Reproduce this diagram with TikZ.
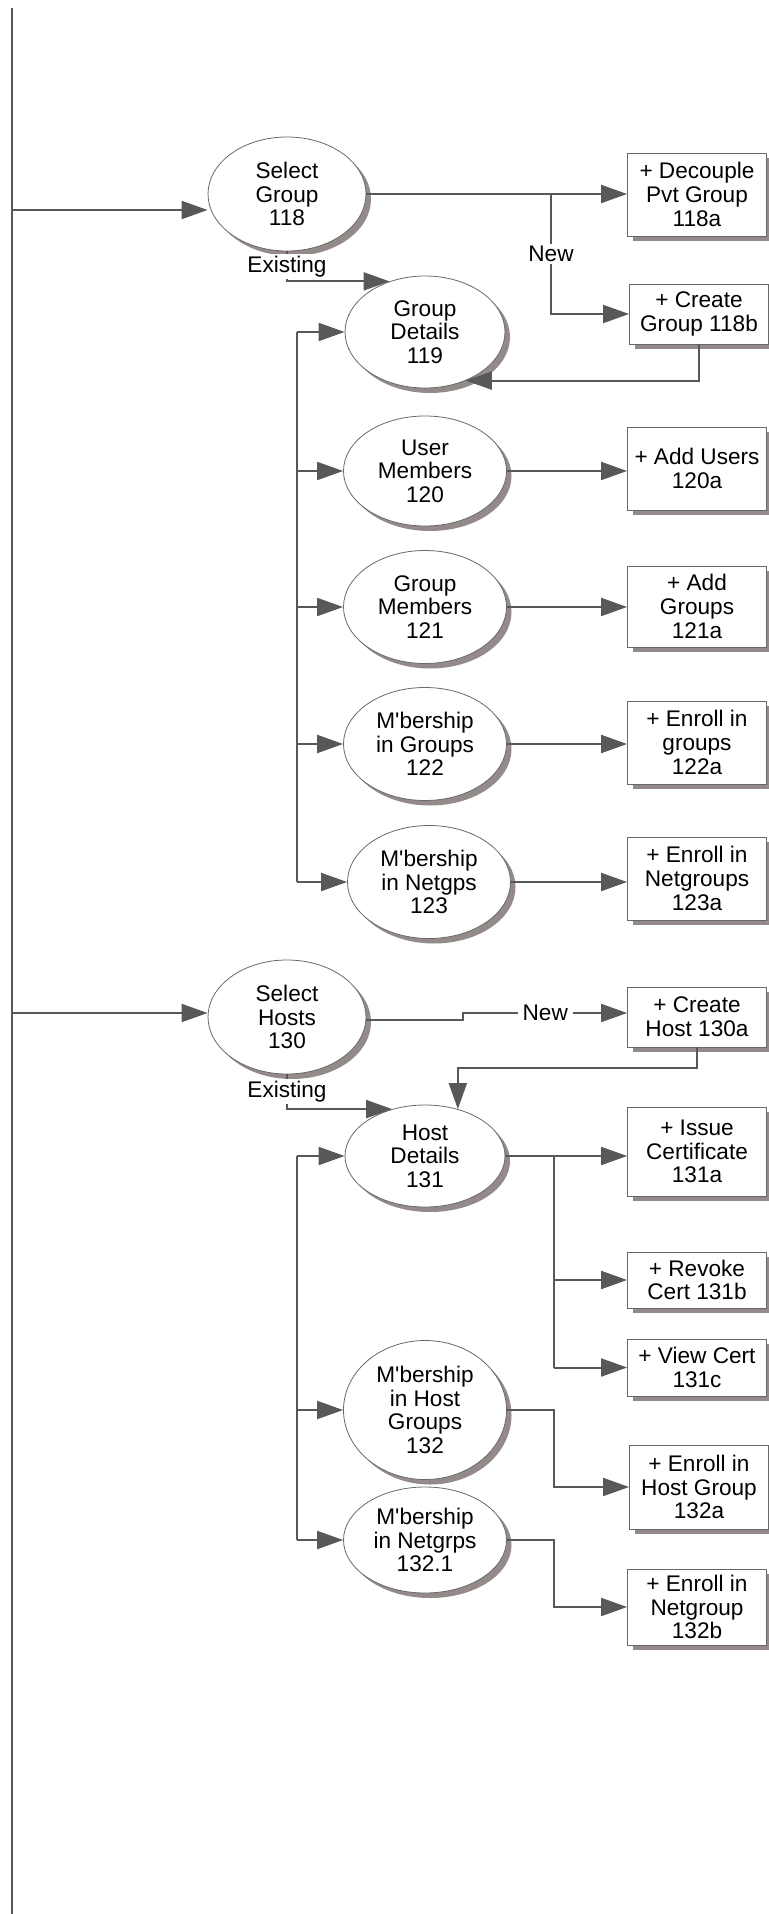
\documentclass[tikz,border=0pt]{standalone}
\usepackage{fontspec}
\setmainfont{Liberation Sans}
\usetikzlibrary{shapes.geometric, arrows.meta, shadows}
\definecolor{linegray}{RGB}{88,88,88}
\definecolor{shadegray}{RGB}{148,138,138}
\definecolor{rimgray}{RGB}{105,105,105}
\newcommand{\mbr}{M\textquotesingle bership}
\tikzset{
	txt/.style={font=\fontsize{11.3}{11.8}\selectfont, align=center, text=black},
	shade box/.style={drop shadow={shadow xshift=2.5pt, shadow yshift=-2.5pt, fill=shadegray, opacity=1}},
	proc/.style={txt, ellipse, draw=rimgray, line width=0.4pt, fill=white, inner sep=0pt, minimum width=81.5pt, minimum height=56.5pt, shade box},
	act/.style={txt, rectangle, draw=rimgray, line width=0.4pt, fill=white, inner sep=0pt, minimum width=69.5pt, shade box},
	link/.style={draw=linegray, line width=1pt},
	flow/.style={link, -{Triangle[length=13pt, width=9pt]}},
	lbl/.style={txt, fill=white, inner xsep=2.5pt, inner ysep=1pt}
}
\begin{document}
\begin{tikzpicture}[x=0.5pt, y=-0.5pt]
	\useasboundingbox (0,0) rectangle (768,1914);
	\node[proc, minimum width=79pt, minimum height=57pt] (sg) at (287,194) {Select\\Group\\118};
	\node[act, minimum height=41.5pt] (dpg) at (697,194.5) {+ Decouple\\Pvt Group\\118a};
	\node[act, minimum height=30pt] (cg) at (699,314) {+ Create\\Group 118b};
	\node[proc, minimum width=80pt, minimum height=56pt] (gd) at (425,332) {Group\\Details\\119};
	\node[proc, minimum height=55pt] (um) at (425,471) {User\\Members\\120};
	\node[act, minimum height=41.5pt] (au) at (697,468.5) {+ Add Users\\120a};
	\node[proc] (gm) at (425,607) {Group\\Members\\121};
	\node[act, minimum height=40.5pt] (ag) at (697,606.5) {+ Add\\Groups\\121a};
	\node[proc] (mg) at (425,744) {\mbr\\in Groups\\122};
	\node[act, minimum height=41.5pt] (eg) at (697,742.5) {+ Enroll in\\groups\\122a};
	\node[proc] (mn) at (429,882) {\mbr\\in Netgps\\123};
	\node[act, minimum height=41.5pt] (en) at (697,878.5) {+ Enroll in\\Netgroups\\123a};
	\node[proc, minimum width=79pt, minimum height=57pt] (sh) at (287,1017) {Select\\Hosts\\130};
	\node[act, minimum height=30pt] (ch) at (697,1017) {+ Create\\Host 130a};
	\node[proc, minimum width=80pt, minimum height=51pt] (hd) at (425,1156) {Host\\Details\\131};
	\node[act, minimum height=44.5pt] (ic) at (697,1151.5) {+ Issue\\Certificate\\131a};
	\node[act, minimum height=28pt] (rc) at (697,1280) {+ Revoke\\Cert 131b};
	\node[act, minimum height=28.5pt] (vc) at (697,1367.5) {+ View Cert\\131c};
	\node[proc, minimum height=69.5pt] (mhg) at (425,1410) {\mbr\\in Host\\Groups\\132};
	\node[act, minimum height=42pt] (ehg) at (699,1487) {+ Enroll in\\Host Group\\132a};
	\node[proc, minimum height=53pt] (mng) at (425,1540) {\mbr\\in Netgrps\\132.1};
	\node[act, minimum height=38pt] (eng) at (697,1607) {+ Enroll in\\Netgroup\\132b};
	\coordinate (top) at (12,8);
	\coordinate (bot) at (12,1914);
	\coordinate (tapG) at (12,210);
	\coordinate (tapH) at (12,1013);
	\coordinate (brG) at (551,194);
	\coordinate (spG) at (297,0);
	\coordinate (spC) at (554,0);
	\draw[link, line width=1.25pt] (top) -- (bot);
	\draw[flow] (tapG) -- (tapG -| sg.west);
	\draw[flow] (tapH) -- (tapH -| sh.west);
	\draw[flow] (sg.east) -- (sg.east -| dpg.west);
	\draw[flow] (brG) |- node[lbl, pos=0.25] {New} (cg.west);
	\draw[flow] (sg.south) |- node[lbl, pos=0.25] {Existing} (gd.125);
	\draw[flow] (cg.south) |- (gd.-50);
	\draw[link] (gd.west -| spG) -- (mn.west -| spG);
	\foreach \n in {gd,um,gm,mg,mn}
		\draw[flow] (\n.west -| spG) -- (\n.west);
	\foreach \a/\b in {um/au, gm/ag, mg/eg, mn/en}
		\draw[flow] (\a.east) -- (\a.east -| \b.west);
	\draw[flow] ([yshift=-1.5pt]sh.east) -- ++(97,0) |- node[lbl, pos=0.75] {New} ([yshift=2pt]ch.west);
	\draw[flow] (ch.south) -- ++(0,21) -| (hd.55);
	\draw[flow] (sh.south) |- node[lbl, pos=0.25] {Existing} (hd.125);
	\draw[flow] (hd.east) -- (hd.east -| ic.west);
	\draw[link] (hd.east -| spC) -- (vc.west -| spC);
	\foreach \n in {rc,vc}
		\draw[flow] (\n.west -| spC) -- (\n.west);
	\draw[link] (hd.west -| spG) -- (mng.west -| spG);
	\foreach \n in {hd,mhg,mng}
		\draw[flow] (\n.west -| spG) -- (\n.west);
	\foreach \a/\b in {mhg/ehg, mng/eng}
		\draw[flow] (\a.east) -- (\a.east -| spC) |- (\b.west);
\end{tikzpicture}
\end{document}
